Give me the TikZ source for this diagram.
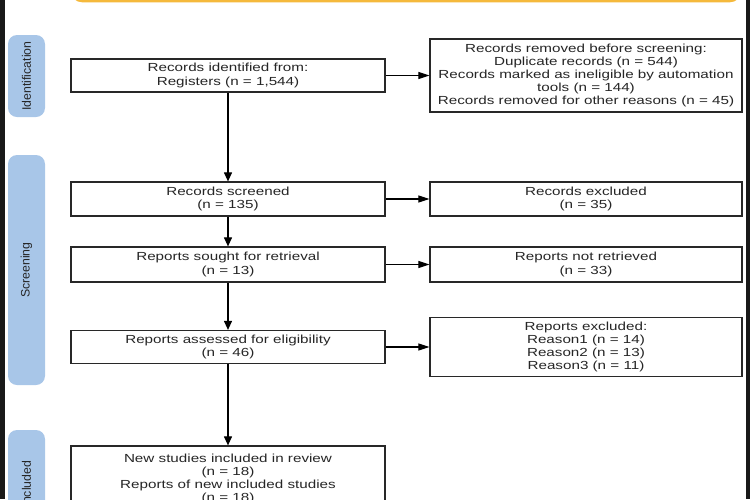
\documentclass[tikz,border=0pt]{standalone}
\usepackage{fontspec}
\setmainfont{Liberation Sans}[FakeStretch=1.3]
\newfontfamily\sidefont{Liberation Sans}
\usetikzlibrary{arrows.meta}
\definecolor{sideblue}{RGB}{168,198,232}
\definecolor{topor}{RGB}{245,185,60}
\definecolor{edgec}{RGB}{40,40,40}
\definecolor{stripc}{RGB}{25,25,25}
\tikzset{
  box/.style={draw=edgec, line width=1.2pt, fill=white, align=center, inner sep=2pt,
    font=\fontsize{11.7pt}{13.1pt}\selectfont, text=black!85},
  lbox/.style={box, minimum width=314pt},
  rbox/.style={box, minimum width=312pt},
  side/.style={fill=sideblue, rounded corners=9pt, rotate=90, inner sep=0pt,
    font=\sidefont\fontsize{12.3pt}{14pt}\selectfont, text=black!85},
  flow/.style={draw=black, line width=1.1pt, -{Triangle[length=9pt,width=8pt]}},
  hflow/.style={draw=black, line width=1.1pt, -{Triangle[length=11pt,width=7pt]}}
}
\begin{document}
\begin{tikzpicture}[x=1pt,y=-1pt]
\useasboundingbox (0,0) rectangle (750,499);
\clip (0,0) rectangle (750,499);
% frame strips
\fill[stripc] (0,0) rectangle (5,499);
\fill[stripc] (746,0) rectangle (750,499);
% top banner (cut off)
\draw[topor, line width=2.5pt, rounded corners=10pt] (72,-40) rectangle (740,1);
% side labels
\node[side, minimum width=82pt, minimum height=37pt] (sid) at (26.5,76) {Identification};
\node[side, minimum width=230pt, minimum height=37pt] (ssc) at (26.5,270) {Screening};
\node[side, minimum width=108pt, minimum height=37pt] (sin) at (26.5,484) {Included};
% boxes
\node[lbox, minimum height=33pt] (a) at (228,75.5) {Records identified from:\\Registers (n = 1,544)};
\node[rbox, minimum height=73pt] (b) at (586,75.5) {Records removed before screening:\\Duplicate records (n = 544)\\Records marked as ineligible by automation\\tools (n = 144)\\Records removed for other reasons (n = 45)};
\node[lbox, minimum height=34pt] (c) at (228,199) {Records screened\\(n = 135)};
\node[rbox, minimum height=34pt] (d) at (586,199) {Records excluded\\(n = 35)};
\node[lbox, minimum height=35pt] (e) at (228,264.5) {Reports sought for retrieval\\(n = 13)};
\node[rbox, minimum height=35pt] (f) at (586,264.5) {Reports not retrieved\\(n = 33)};
\node[lbox, minimum height=33pt] (g) at (228,347) {Reports assessed for eligibility\\(n = 46)};
\node[rbox, minimum height=59pt] (h) at (586,347) {Reports excluded:\\Reason1 (n = 14)\\Reason2 (n = 13)\\Reason3 (n = 11)};
\node[lbox, minimum height=66pt] (i) at (228,479) {New studies included in review\\(n = 18)\\Reports of new included studies\\(n = 18)};
% connectors
\draw[hflow] (a) -- (b);
\draw[hflow] (c) -- (d);
\draw[hflow] (e) -- (f);
\draw[hflow] (g) -- (h);
\draw[flow] (a) -- (c);
\draw[flow] (c) -- (e);
\draw[flow] (e) -- (g);
\draw[flow] (g) -- (i);
\end{tikzpicture}
\end{document}
